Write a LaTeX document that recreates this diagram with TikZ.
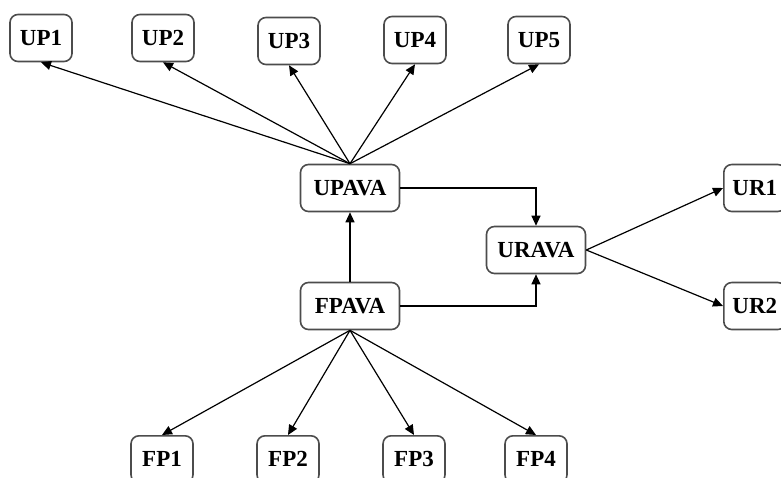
\documentclass[tikz,border=0pt]{standalone}
\usepackage{fontspec}
\setmainfont{Liberation Serif}
\usetikzlibrary{calc, arrows.meta}

\tikzset{
	varbox/.style = {draw = black!70, thick, rounded corners = 4pt, fill = white,
		minimum width = 31pt, minimum height = 23.5pt, inner sep = 2pt,
		font = \fontsize{11.5}{13}\selectfont\bfseries},
	avabox/.style = {varbox, minimum width = 49.5pt}
}

\begin{document}
\begin{tikzpicture}[x = 0.5pt, y = -0.5pt, line width = 0.6pt]
							\useasboundingbox (0,0) rectangle (781,477);
							\clip (0,0) rectangle (781,477);
				
							% upper level
							\node [varbox] (up1) at (41,38) {UP1};
							\node [varbox] (up2) at (163,38) {UP2};
							\node [varbox] (up3) at (289,41) {UP3};
							\node [varbox] (up4) at (415,40) {UP4};
							\node [varbox] (up5) at (539,40) {UP5};
				
							% middle
							\node [avabox] (upava) at (350,188) {UPAVA};
							\node [avabox] (fpava) at (350,306) {FPAVA};
							\node [avabox] (urava) at (536,250) {URAVA};
				
							\node [varbox, anchor = west] (ur1) at (723,188) {UR1};
							\node [varbox, anchor = west] (ur2) at (723,306) {UR2};
				
							% lower level
							\node [varbox, anchor = north] (fp1) at (162,435) {FP1};
							\node [varbox, anchor = north] (fp2) at (288,435) {FP2};
							\node [varbox, anchor = north] (fp3) at (414,435) {FP3};
							\node [varbox, anchor = north] (fp4) at (536,435) {FP4};
				
							\begin{scope}[-{Stealth[length = 5pt, width = 4.5pt, inset = 0pt]}]
								\foreach \n in {1,...,5}
								{
									\draw (upava.north) -- (up\n.south);
								}
								\foreach \n in {1,...,4}
								{
									\draw (fpava.south) -- (fp\n.north);
								}
								\draw (fpava) -- (upava);
								\draw (upava.east) -| (urava.north);
								\draw (fpava.east) -| (urava.south);
								\draw (urava.east) -- (ur1.west);
								\draw (urava.east) -- (ur2.west);
							\end{scope}
						\end{tikzpicture}
\end{document}
